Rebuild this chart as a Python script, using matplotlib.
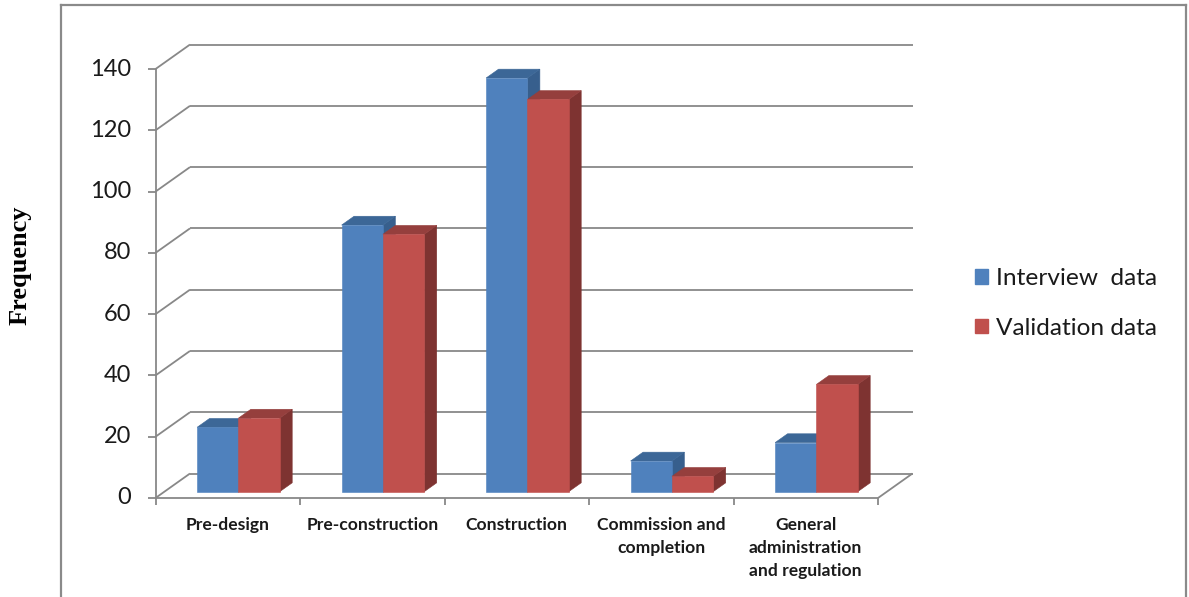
import matplotlib
matplotlib.use("Agg")
import matplotlib.pyplot as plt
from matplotlib.patches import Polygon, Patch
from matplotlib.lines import Line2D

# ---- data -------------------------------------------------------------
categories = ["Pre-design", "Pre-construction", "Construction",
              "Commission and\ncompletion",
              "General\nadministration\nand regulation"]
series_names = ["Interview  data", "Validation data"]
interview = [21, 87, 135, 10, 16]
validation = [24, 84, 128, 5, 35]
yticks = [0, 20, 40, 60, 80, 100, 120, 140]

# ---- styling ----------------------------------------------------------
W, H = 1189, 597
PX_CAT, PX_VAL = 144.5, 3.064          # pixels per category / per unit
ORIG_X, ORIG_Y = 155.5, 498            # front-axis origin (pixels from top-left)
DX = 34.5 / PX_CAT                      # depth shift, category units
DY = 24.5 / PX_VAL                      # depth shift, value units
F0, F1 = 0.26, 0.62                     # bar depth range (fraction of floor)
GAP, BW = 0.226, 0.286                  # bar offset within category, bar width

face = {0: ("#4F81BD", "#3C6797", "#375F8D"),
        1: ("#C0504D", "#953F3D", "#7E3331")}
grid_col = "#888888"
text_col = "#1a1a1a"

fig = plt.figure(figsize=(W / 100, H / 100), dpi=100)
ax = fig.add_axes([0, 0, 1, 1])
ax.set_xlim(-ORIG_X / PX_CAT, (W - ORIG_X) / PX_CAT)
ax.set_ylim(-(H - ORIG_Y) / PX_VAL, ORIG_Y / PX_VAL)
ax.axis("off")


def proj(x, v, d):
    """Oblique projection of (category x, value v, depth d) into the axes."""
    return x + d * DX, v + d * DY


def seg(p, q, **kw):
    (x0, y0), (x1, y1) = proj(*p), proj(*q)
    ax.add_line(Line2D([x0, x1], [y0, y1], color=grid_col, lw=1.3,
                       solid_capstyle="butt", **kw))


n = len(categories)

# walls: gridlines on the left and back walls
for v in yticks:
    seg((0, v, 0), (0, v, 1))
    seg((0, v, 1), (n, v, 1))
# floor outline
seg((0, 0, 0), (n, 0, 0))
seg((n, 0, 0), (n, 0, 1))
# value axis and ticks
seg((0, 0, 0), (0, yticks[-1], 0))
for v in yticks:
    seg((0, v, 0), (-0.05, v, 0))
    ax.text(*proj(-0.17, v, 0), str(v), ha="right", va="center",
            fontsize=17, family="Lato", color=text_col)
# category ticks
for i in range(n + 1):
    seg((i, 0, 0), (i, -2.4, 0))

# bars
for i in range(n):
    for s, vals in enumerate((interview, validation)):
        h = vals[i]
        x0 = i + GAP + s * BW
        x1 = x0 + BW
        fr, tp, sd = face[s]
        side = [proj(x1, 0, F0), proj(x1, 0, F1), proj(x1, h, F1), proj(x1, h, F0)]
        top = [proj(x0, h, F0), proj(x1, h, F0), proj(x1, h, F1), proj(x0, h, F1)]
        front = [proj(x0, 0, F0), proj(x1, 0, F0), proj(x1, h, F0), proj(x0, h, F0)]
        for poly, c in ((side, sd), (top, tp), (front, fr)):
            ax.add_patch(Polygon(poly, closed=True, facecolor=c, edgecolor=c,
                                 lw=0.4, zorder=3))

# category labels
for i, lab in enumerate(categories):
    ax.text(i + 0.5, -6.2, lab, ha="center", va="top", fontsize=12.6,
            family="Lato", fontweight="bold", color=text_col, linespacing=1.52)

# axis title
fig.text(20 / W, 1 - 265 / H, "Frequency", rotation=90, ha="center",
         va="center", fontsize=19, family="Liberation Serif",
         fontweight="bold", color="black")

# legend
handles = [Patch(facecolor=face[k][0], edgecolor=face[k][0]) for k in (0, 1)]
fig.legend(handles, series_names, loc="center left",
           bbox_to_anchor=(975 / W, 1 - 303.5 / H), frameon=False,
           prop={"family": "Lato", "size": 17.6},
           handlelength=0.54, handleheight=0.54, handletextpad=0.3,
           labelspacing=1.17, borderpad=0, borderaxespad=0,
           labelcolor=text_col)

# outer frame (open at the bottom)
fx0, fx1, fy = 60.5 / W, 1186 / W, 1 - 5 / H
for xs, ys in (([fx0, fx0], [0, fy]), ([fx0, fx1], [fy, fy]), ([fx1, fx1], [fy, 0])):
    fig.add_artist(Line2D(xs, ys, color="#8a8a8a", lw=1.6,
                          transform=fig.transFigure))

fig.savefig("out.png", dpi=100)
